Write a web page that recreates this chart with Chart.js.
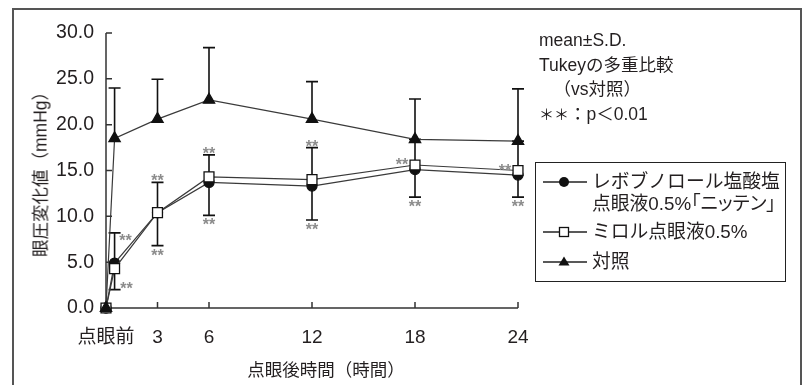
<!DOCTYPE html>
<html>
<head>
<meta charset="utf-8">
<script src="https://cdn.jsdelivr.net/npm/chart.js@4.4.1/dist/chart.umd.min.js"></script>
<style>
  html, body { margin: 0; padding: 0; background: #fff; }
  body { width: 806px; height: 385px; position: relative; overflow: hidden;
         font-family: "Liberation Sans", "Noto Sans CJK JP", sans-serif; color: #231f20; }
  #frame { position: absolute; left: 12px; top: 8px; width: 790px; height: 420px;
           border: 2px solid #555; box-sizing: border-box; }
  #chart { position: absolute; left: 0; top: 0; }
  .txt { position: absolute; white-space: nowrap; font-size: 17.5px; }
  #ytitle { left: 39px; top: 170px; transform: translate(-50%, -50%) rotate(-90deg); }
  #xtitle { left: 326px; top: 368px; transform: translate(-50%, -50%); }
  #note { left: 539px; top: 28px; font-size: 17.5px; line-height: 24.7px; }
  #note .ast { font-size: 15px; }
  #legend { position: absolute; left: 535px; top: 162px; width: 251px; height: 120px;
            border: 1.5px solid #222; box-sizing: border-box; font-size: 18.8px; }
  .row { position: absolute; left: 6px; display: flex; align-items: flex-start; white-space: nowrap; }
  .row svg { flex: none; margin-right: 4px; }
  .row span { line-height: 22px; }
  .row .l2 { font-feature-settings: "palt"; }
</style>
</head>
<body>
<div id="frame"></div>
<canvas id="chart" width="806" height="385"></canvas>
<div class="txt" id="ytitle">眼圧変化値（mmHg）</div>
<div class="txt" id="xtitle">点眼後時間（時間）</div>
<div class="txt" id="note">mean±S.D.<br>Tukeyの多重比較<br>&nbsp;&nbsp;&nbsp;（vs対照）<br><span class="ast">＊＊</span>：p＜0.01</div>
<div id="legend"></div>
<script>
// time after instillation (h)
const timePoints = [0, 0.5, 3, 6, 12, 18, 24];
const xTickValues = [0, 3, 6, 12, 18, 24];
const xTickLabels = ['点眼前', '3', '6', '12', '18', '24'];

const seriesNames = ['レボブノロール塩酸塩\n点眼液0.5%「ニッテン」', 'ミロル点眼液0.5%', '対照'];

// mean and S.D.; side: 1 = upper bar drawn, -1 = lower bar drawn
const levoMean = [0, 4.9, 10.4, 13.7, 13.3, 15.1, 14.5];
const levoSD = [0, 3.3, 3.6, 3.6, 3.7, 3.0, 2.4];
const levoSide = [0, 1, -1, -1, -1, -1, -1];

const mirolMean = [0, 4.3, 10.4, 14.3, 14.0, 15.6, 15.0];
const mirolSD = [0, 2.3, 3.3, 2.4, 3.5, 2.8, 3.2];
const mirolSide = [0, -1, 1, 1, 1, 1, 1];

const ctrlMean = [0, 18.5, 20.6, 22.7, 20.6, 18.4, 18.2];
const ctrlSD = [0, 5.5, 4.35, 5.7, 4.1, 4.4, 5.7];
const ctrlSide = [0, 1, 1, 1, 1, 1, 1];

// ** marks: series, time index, anchor, placement
const sigMarks = [
    [0, 1, 'end', 'rightBelow'], [1, 1, 'end', 'rightAbove'],
    [1, 2, 'end', 'above'], [0, 2, 'end', 'below'],
    [1, 3, 'end', 'above'], [0, 3, 'end', 'below'],
    [1, 4, 'end', 'above'], [0, 4, 'end', 'below'],
    [1, 5, 'mean', 'left'], [0, 5, 'end', 'below'],
    [1, 6, 'mean', 'left'], [0, 6, 'end', 'below']
];
const sigOffset = {
    rightBelow: [11, 4], rightAbove: [12, -5], above: [0, -5],
    below: [0, 6], left: [-13, -4]
};

const means = [levoMean, mirolMean, ctrlMean];
const sds = [levoSD, mirolSD, ctrlSD];
const sides = [levoSide, mirolSide, ctrlSide];
const markers = [
    { style: 'circle', radius: 5, fill: '#111' },
    { style: 'rect', radius: 7, fill: '#fff' },
    { style: 'triangle', radius: 6.5, fill: '#111' }
];
const drawOrder = [2, 1, 0];

const ink = '#231f20';
const latin = '"Liberation Sans", "Noto Sans CJK JP", sans-serif';

function toPoints(arr) {
    return timePoints.map((t, i) => ({ x: t, y: arr[i] }));
}

// axis lines with inward ticks
const axesPlugin = {
    id: 'axes',
    beforeDatasetsDraw(chart) {
        const { ctx, scales: { x, y } } = chart;
        const x0 = x.getPixelForValue(0), y0 = y.getPixelForValue(0);
        ctx.save();
        ctx.strokeStyle = '#333';
        ctx.lineWidth = 1.5;
        ctx.beginPath();
        ctx.moveTo(x0, y.getPixelForValue(30));
        ctx.lineTo(x0, y0);
        ctx.lineTo(x.getPixelForValue(24), y0);
        for (let v = 5; v <= 30; v += 5) {
            ctx.moveTo(x0, y.getPixelForValue(v));
            ctx.lineTo(x0 + 6, y.getPixelForValue(v));
        }
        xTickValues.slice(1).forEach(v => {
            ctx.moveTo(x.getPixelForValue(v), y0);
            ctx.lineTo(x.getPixelForValue(v), y0 - 6);
        });
        ctx.stroke();
        ctx.restore();
    }
};

// one-sided S.D. bars and ** marks
const errorPlugin = {
    id: 'errorBars',
    beforeDatasetsDraw(chart) {
        const { ctx, scales: { x, y } } = chart;
        ctx.save();
        ctx.strokeStyle = '#111';
        ctx.lineWidth = 1.6;
        means.forEach((m, s) => {
            timePoints.forEach((t, i) => {
                if (!sides[s][i]) return;
                const px = x.getPixelForValue(t);
                const y1 = y.getPixelForValue(m[i]);
                const y2 = y.getPixelForValue(m[i] + sides[s][i] * sds[s][i]);
                ctx.beginPath();
                ctx.moveTo(px, y1);
                ctx.lineTo(px, y2);
                ctx.moveTo(px - 6, y2);
                ctx.lineTo(px + 6, y2);
                ctx.stroke();
            });
        });
        ctx.restore();
    },
    afterDatasetsDraw(chart) {
        const { ctx, scales: { x, y } } = chart;
        ctx.save();
        ctx.fillStyle = '#8c8c8c';
        ctx.font = 'bold 16px "Liberation Sans"';
        ctx.textAlign = 'center';
        ctx.textBaseline = 'alphabetic';
        sigMarks.forEach(([s, i, at, pos]) => {
            const v = at === 'end' ? means[s][i] + sides[s][i] * sds[s][i] : means[s][i];
            const off = sigOffset[pos];
            ctx.fillText('**', x.getPixelForValue(timePoints[i]) + off[0],
                y.getPixelForValue(v) + off[1] + 9);
        });
        ctx.restore();
    }
};

new Chart(document.getElementById('chart'), {
    type: 'line',
    data: {
        datasets: means.map((m, s) => ({
            label: seriesNames[s],
            data: toPoints(m),
            order: drawOrder[s],
            clip: false,
            borderColor: '#3a3a3a',
            borderWidth: 1.2,
            pointStyle: markers[s].style,
            pointRadius: markers[s].radius,
            pointBackgroundColor: markers[s].fill,
            pointBorderColor: '#111',
            pointBorderWidth: 1.3,
            tension: 0
        }))
    },
    options: {
        responsive: false,
        animation: false,
        devicePixelRatio: 1,
        layout: { padding: { left: 0, top: 33, right: 288, bottom: 0 } },
        plugins: { legend: { display: false }, tooltip: { enabled: false } },
        scales: {
            x: {
                type: 'linear',
                min: 0,
                max: 24,
                grid: { display: false, drawTicks: false },
                border: { display: false },
                afterBuildTicks: scale => { scale.ticks = xTickValues.map(v => ({ value: v })); },
                afterFit: scale => { scale.height = 77; },
                ticks: {
                    padding: 18,
                    color: ink,
                    font: { family: latin, size: 19 },
                    maxRotation: 0,
                    autoSkip: false,
                    callback: v => xTickLabels[xTickValues.indexOf(v)]
                }
            },
            y: {
                min: 0,
                max: 30,
                grid: { display: false, drawTicks: false },
                border: { display: false },
                afterFit: scale => { scale.width = 106; },
                ticks: {
                    stepSize: 5,
                    padding: 12,
                    color: ink,
                    font: { family: latin, size: 19.5 },
                    callback: v => v.toFixed(1)
                }
            }
        }
    },
    plugins: [axesPlugin, errorPlugin]
});

// legend built from the series list
const legend = document.getElementById('legend');
const rowTops = [8, 58, 88];
seriesNames.forEach((name, s) => {
    const row = document.createElement('div');
    row.className = 'row';
    row.style.top = rowTops[s] + 'px';
    const mk = markers[s];
    let shape;
    if (mk.style === 'circle') shape = '<circle cx="22" cy="11" r="5" fill="#111"/>';
    else if (mk.style === 'rect') shape = '<rect x="17.5" y="6.5" width="9" height="9" fill="#fff" stroke="#111" stroke-width="1.3"/>';
    else shape = '<polygon points="22,5.5 27.5,14.5 16.5,14.5" fill="#111"/>';
    const lines = name.split('\n');
    const text = lines[0] + (lines[1] ? '<br><span class="l2">' + lines[1] + '</span>' : '');
    row.innerHTML = '<svg width="46" height="22"><line x1="1" y1="11" x2="45" y2="11" stroke="#222" stroke-width="1.6"/>' +
        shape + '</svg><span>' + text + '</span>';
    legend.appendChild(row);
});
</script>
</body>
</html>
